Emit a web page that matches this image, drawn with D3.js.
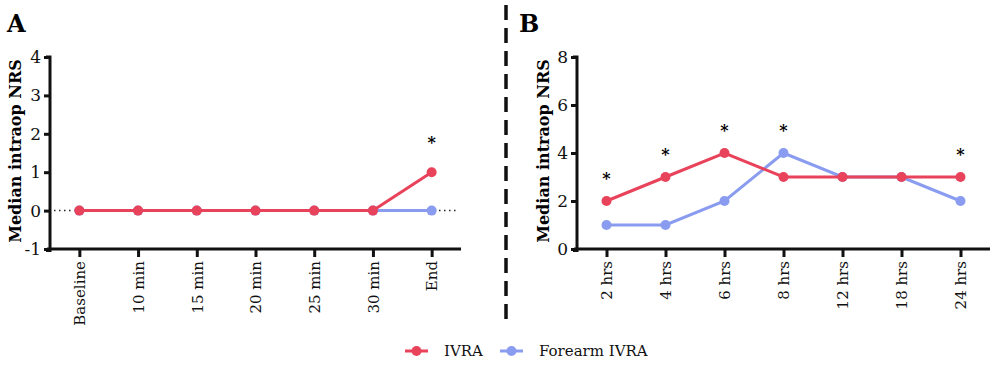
<!DOCTYPE html>
<html>
<head>
<meta charset="utf-8">
<script src="https://cdn.jsdelivr.net/npm/d3@7"></script>
<style>
  body { margin: 0; background: #fff; }
  svg { font-family: 'DejaVu Serif', serif; }
</style>
</head>
<body>
<svg id="chart" width="1000" height="372"></svg>
<script>
// panel A: intraoperative
const intraCats = ['Baseline', '10 min', '15 min', '20 min', '25 min', '30 min', 'End'];
const intraIvra = [0, 0, 0, 0, 0, 0, 1];
const intraForearm = [0, 0, 0, 0, 0, 0, 0];
const intraStars = ['End'];
const intraTicks = [-1, 0, 1, 2, 3, 4];

// panel B: postoperative
const postCats = ['2 hrs', '4 hrs', '6 hrs', '8 hrs', '12 hrs', '18 hrs', '24 hrs'];
const postIvra = [2, 3, 4, 3, 3, 3, 3];
const postForearm = [1, 1, 2, 4, 3, 3, 2];
const postStars = ['2 hrs', '4 hrs', '6 hrs', '8 hrs', '24 hrs'];
const postTicks = [0, 2, 4, 6, 8];

const seriesNames = ['IVRA', 'Forearm IVRA'];
const red = '#e8435b';
const blue = '#8a9cf0';

const svg = d3.select('#chart');

function panel(opts) {
  const g = svg.append('g');
  const x = d3.scalePoint().domain(opts.cats).range([opts.left, opts.right]).padding(0.5);
  const y = d3.scaleLinear().domain(opts.yDomain).range([opts.bottom, opts.top]);

  // panel letter
  g.append('text')
    .attr('x', opts.letterX).attr('y', 32)
    .text(opts.letter)
    .style('font-size', '24px').style('font-weight', 'bold');

  // dotted zero line
  if (opts.zeroLine) {
    g.append('line')
      .attr('x1', opts.left + 4).attr('x2', opts.right - 2)
      .attr('y1', y(0)).attr('y2', y(0))
      .attr('stroke', '#222').attr('stroke-width', 1.5)
      .attr('stroke-dasharray', '1.5,3.5');
  }

  // axes
  const yAxis = g.append('g')
    .attr('transform', `translate(${opts.left},0)`)
    .call(d3.axisLeft(y).tickValues(opts.ticks).tickFormat((d) => String(d)).tickSize(6).tickPadding(3));
  const xAxis = g.append('g')
    .attr('transform', `translate(0,${opts.bottom})`)
    .call(d3.axisBottom(x).tickSize(8).tickPadding(5));
  [yAxis, xAxis].forEach((a) => {
    a.select('.domain').attr('stroke', '#111').attr('stroke-width', 3);
    a.selectAll('.tick line').attr('stroke', '#111').attr('stroke-width', 3);
    a.selectAll('text').style('font-family', 'DejaVu Serif').style('font-size', '15px').attr('fill', '#111');
  });
  yAxis.selectAll('text').style('font-size', '17px');
  yAxis.select('.domain').attr('d', `M-4,${opts.top}H0V${opts.bottom + 1.5}H-4`);
  xAxis.select('.domain').attr('d', `M${opts.left - 3},0H${opts.right}`);
  xAxis.selectAll('text')
    .attr('transform', 'rotate(-90)')
    .attr('text-anchor', 'end')
    .attr('x', -12).attr('y', 0).attr('dy', '0.35em');

  // y title
  g.append('text')
    .attr('transform', `translate(${opts.titleX},${(opts.top + opts.bottom) / 2 - 2}) rotate(-90)`)
    .attr('text-anchor', 'middle')
    .attr('dy', '0.35em')
    .text('Median intraop NRS')
    .style('font-size', '16px').style('font-weight', 'bold');

  const line = d3.line().x((d, i) => x(opts.cats[i])).y((d) => y(d));

  [[opts.forearm, blue], [opts.ivra, red]].forEach(([vals, col]) => {
    g.append('path')
      .datum(vals)
      .attr('d', line)
      .attr('fill', 'none')
      .attr('stroke', col)
      .attr('stroke-width', 3);
    g.selectAll(null)
      .data(vals)
      .join('circle')
      .attr('cx', (d, i) => x(opts.cats[i]))
      .attr('cy', (d) => y(d))
      .attr('r', 5)
      .attr('fill', col);
  });

  // significance stars
  g.selectAll(null)
    .data(opts.stars)
    .join('text')
    .attr('x', (d) => x(d))
    .attr('y', (d) => {
      const i = opts.cats.indexOf(d);
      return y(Math.max(opts.ivra[i], opts.forearm[i])) - opts.starGap;
    })
    .attr('text-anchor', 'middle')
    .attr('dy', '0.75em')
    .text('*')
    .style('font-size', '16px').style('font-weight', 'bold');
}

panel({
  cats: intraCats, ivra: intraIvra, forearm: intraForearm, stars: intraStars,
  ticks: intraTicks, yDomain: [-1, 4], left: 50, right: 461, top: 57, bottom: 249,
  letter: 'A', letterX: 7, titleX: 15, zeroLine: true, starGap: 36
});

panel({
  cats: postCats, ivra: postIvra, forearm: postForearm, stars: postStars,
  ticks: postTicks, yDomain: [0, 8], left: 577, right: 990, top: 57, bottom: 249,
  letter: 'B', letterX: 519, titleX: 543, zeroLine: false, starGap: 29
});

// divider
svg.append('line')
  .attr('x1', 506).attr('x2', 506).attr('y1', 5).attr('y2', 327)
  .attr('stroke', '#111').attr('stroke-width', 3.5)
  .attr('stroke-dasharray', '15,8');

// legend
const legend = svg.append('g');
const legendX = [405, 500];
seriesNames.forEach((name, i) => {
  const col = i === 0 ? red : blue;
  const lg = legend.append('g').attr('transform', `translate(${legendX[i]},351)`);
  lg.append('line').attr('x1', 0).attr('x2', 23).attr('stroke', col).attr('stroke-width', 3);
  lg.append('circle').attr('cx', 11.5).attr('r', 5).attr('fill', col);
  lg.append('text').attr('x', 39).attr('dy', '0.35em').text(name)
    .style('font-size', '15px').attr('fill', '#111');
});
</script>
</body>
</html>
